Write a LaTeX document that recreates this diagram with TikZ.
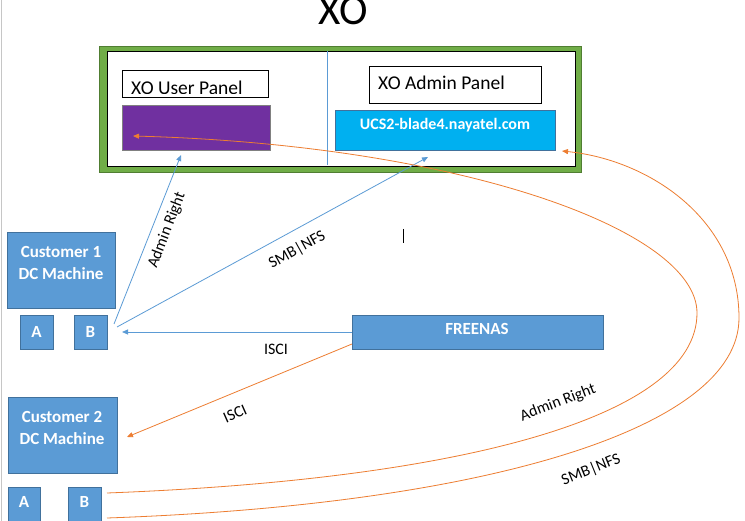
\documentclass[tikz,border=0pt]{standalone}
\usepackage{fontspec}
\setmainfont{Carlito}
\usetikzlibrary{arrows.meta}
\definecolor{boxblue}{HTML}{5B9BD5}
\definecolor{boxblueedge}{HTML}{41719C}
\definecolor{xgreen}{HTML}{70AD47}
\definecolor{xgreenedge}{HTML}{507E32}
\definecolor{xpurple}{HTML}{7030A0}
\definecolor{xcyan}{HTML}{00B0F0}
\definecolor{xorange}{HTML}{ED7D31}
\begin{document}
\begin{tikzpicture}[x=1pt,y=-1pt,
  bluebox/.style={draw=boxblueedge,fill=boxblue,line width=0.8pt,inner sep=0pt,outer sep=0pt,anchor=north west},
  whitetxt/.style={text=white,font=\fontsize{17}{22}\selectfont\bfseries,align=center,inner sep=0pt},
  lbl/.style={font=\fontsize{16}{18}\selectfont,inner sep=0pt},
  blueline/.style={draw=boxblue,line width=0.8pt,-{Triangle[length=6pt,width=5pt]}},
  orangeline/.style={draw=xorange,line width=0.8pt,-{Triangle[length=6pt,width=5pt]}}]
\useasboundingbox (0,0) rectangle (745,521);
\fill[white] (0,0) rectangle (745,521);
\draw[gray!45,line width=1pt] (1.5,0) -- (1.5,521);
% title
\node[font=\fontsize{43}{43}\selectfont,anchor=base,inner sep=0pt] (title) at (343,25) {XO};
% XO frame
\node[draw=xgreenedge,fill=xgreen,line width=0.8pt,anchor=north west,minimum width=482pt,minimum height=126pt,inner sep=0pt] (frame) at (99,46) {};
\node[draw=black,fill=white,line width=1pt,anchor=north west,minimum width=468pt,minimum height=115pt,inner sep=0pt] (inner) at (107,51) {};
\draw[boxblue,line width=0.7pt] (327,51) -- (327,165);
% user panel
\begin{scope}
\clip (122,70) rectangle (268,93.5);
\node[font=\fontsize{19.5}{20}\selectfont,anchor=base west,inner sep=0pt] (usertxt) at (131,95) {XO User Panel};
\end{scope}
\node[draw=black,line width=0.8pt,anchor=north west,minimum width=146pt,minimum height=27pt,inner sep=0pt] (userpanel) at (122,70) {};
\node[draw=gray,fill=xpurple,line width=0.8pt,anchor=north west,minimum width=148pt,minimum height=45pt,inner sep=0pt] (purple) at (122,105) {};
% admin panel
\node[draw=black,fill=white,line width=0.8pt,anchor=north west,minimum width=172pt,minimum height=37pt,inner sep=0pt] (adminpanel) at (369,66) {};
\node[font=\fontsize{19.5}{20}\selectfont,anchor=base west,inner sep=0pt] (admintxt) at (378,90) {XO Admin Panel};
\node[draw=boxblueedge,fill=xcyan,line width=0.8pt,anchor=north west,minimum width=220pt,minimum height=40pt,inner sep=0pt] (cyan) at (335,110) {};
\node[whitetxt,font=\fontsize{16}{18}\selectfont\bfseries] (cyantxt) at (445,125) {UCS2-blade4.nayatel.com};
% customer 1
\node[bluebox,minimum width=108pt,minimum height=76pt] (cust1) at (7,232) {};
\node[whitetxt] (cust1txt) at (61,263) {Customer 1\\DC Machine};
\node[bluebox,minimum width=33pt,minimum height=34pt] (a1) at (20,315) {};
\node[whitetxt] at (a1.center) {A};
\node[bluebox,minimum width=33pt,minimum height=34pt] (b1) at (74,315) {};
\node[whitetxt] at (b1.center) {B};
% freenas
\node[bluebox,minimum width=251pt,minimum height=34pt] (freenas) at (352,315) {};
\node[whitetxt] (freenastxt) at (477,329) {FREENAS};
% customer 2
\node[bluebox,minimum width=109pt,minimum height=76pt] (cust2) at (8,397) {};
\node[whitetxt] (cust2txt) at (62,427.5) {Customer 2\\DC Machine};
\node[bluebox,minimum width=32pt,minimum height=40pt] (a2) at (8,487) {};
\node[whitetxt] at (24,502) {A};
\node[bluebox,minimum width=33pt,minimum height=40pt] (b2) at (68,487) {};
\node[whitetxt] at (84.5,502) {B};
% cursor mark
\draw[black,line width=0.8pt] (403,229) -- (403,243);
% connector points
\coordinate (c1a) at (114,324);
\coordinate (c1b) at (117,327);
\coordinate (purplein) at (181,155);
\coordinate (cyanin) at (428,157);
\coordinate (b1in) at (122,332);
\coordinate (c2in) at (127,437);
\coordinate (fnas) at (352,344);
\coordinate (b2a) at (107,493);
\coordinate (b2b) at (107,518);
\coordinate (purplearr) at (133,136);
\coordinate (cyanarr) at (562,151);
% blue connectors
\draw[blueline] (c1a) -- (purplein);
\draw[blueline] (c1b) -- (cyanin);
\draw[blueline] (freenas.west) -- (b1in);
% orange connectors
\draw[orangeline] (fnas) -- (c2in);
\draw[orangeline] (b2a) .. controls (450,480) and (697,420) .. (697,313) .. controls (697,230) and (460,145) .. (purplearr);
\draw[orangeline] (b2b) .. controls (480,505) and (739,430) .. (739,318) .. controls (739,220) and (650,160) .. (cyanarr);
% labels
\node[lbl,rotate=69] (l1) at (167,230) {Admin Right};
\node[lbl,rotate=29] (l2) at (297,250) {SMB|NFS};
\node[lbl] (l3) at (276,349) {ISCI};
\node[lbl,rotate=24] (l4) at (235,414) {ISCI};
\node[lbl,rotate=21] (l5) at (558,403) {Admin Right};
\node[lbl,rotate=22] (l6) at (591,470) {SMB|NFS};
\end{tikzpicture}
\end{document}
